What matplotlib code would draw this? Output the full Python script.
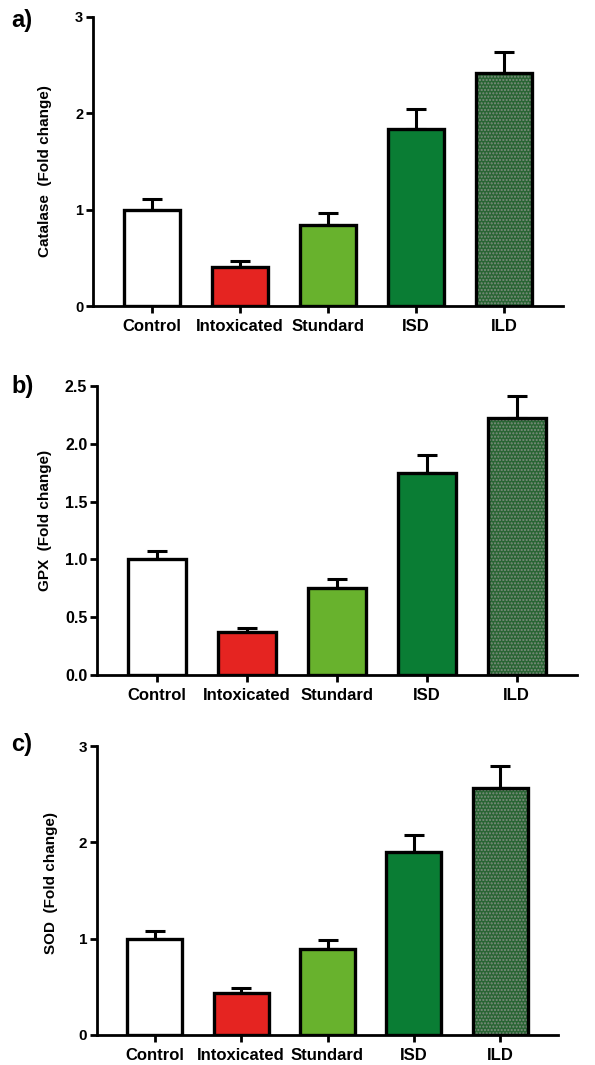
import matplotlib
matplotlib.use("Agg")
import matplotlib.pyplot as plt
import numpy as np

plt.rcParams['font.family'] = ['Liberation Sans', 'DejaVu Sans']

groups = ["Control", "Intoxicated", "Stundard", "ISD", "ILD"]
catalase = [1.00, 0.41, 0.84, 1.84, 2.42]
catalase_err = [0.11, 0.06, 0.13, 0.20, 0.22]
gpx = [1.00, 0.37, 0.75, 1.75, 2.22]
gpx_err = [0.07, 0.04, 0.08, 0.15, 0.19]
sod = [1.00, 0.44, 0.89, 1.90, 2.56]
sod_err = [0.08, 0.05, 0.10, 0.18, 0.23]

colors = ["#ffffff", "#e52421", "#68b22d", "#0a7d34", "#2a6534"]

W, H = 595, 1065
fig = plt.figure(figsize=(W / 100, H / 100), dpi=100)

panels = [
    dict(box=(93, 563, 17, 306), vals=catalase, err=catalase_err, ylim=3,
         yticks=[0, 1, 2, 3], yfmt="{:.0f}", ylabel="Catalase  (Fold change)",
         lab=(45, 171), letter="a)", lpos=(11, 21), ytfs=10.5),
    dict(box=(97, 577, 386, 675), vals=gpx, err=gpx_err, ylim=2.5,
         yticks=[0, 0.5, 1.0, 1.5, 2.0, 2.5], yfmt="{:.1f}", ylabel="GPX  (Fold change)",
         lab=(45, 520), letter="b)", lpos=(11, 386), ytfs=11.5),
    dict(box=(97, 558, 746, 1035), vals=sod, err=sod_err, ylim=3,
         yticks=[0, 1, 2, 3], yfmt="{:.0f}", ylabel="SOD  (Fold change)",
         lab=(51, 883), letter="c)", lpos=(11, 745), ytfs=11),
]

x = np.arange(len(groups))
for p in panels:
    l, r, t, b = p["box"]
    ax = fig.add_axes([l / W, 1 - b / H, (r - l) / W, (b - t) / H])
    for i in range(len(groups)):
        if i == 4:
            ax.bar(x[i], p["vals"][i], width=0.64, color=colors[i],
                   hatch=".....", edgecolor="#7f8e80", linewidth=0, zorder=2)
            ax.bar(x[i], p["vals"][i], width=0.64, fill=False,
                   edgecolor="black", linewidth=2.4, zorder=3)
        else:
            ax.bar(x[i], p["vals"][i], width=0.64, color=colors[i],
                   edgecolor="black", linewidth=2.4, zorder=3)
    ax.errorbar(x, p["vals"], yerr=[np.zeros(len(x)), p["err"]], fmt="none",
                ecolor="black", elinewidth=2.2, capsize=7.5, capthick=2.2, zorder=2.5)
    ax.set_xlim(-0.67, 4.67)
    ax.set_ylim(0, p["ylim"])
    ax.set_yticks(p["yticks"])
    ax.set_yticklabels([p["yfmt"].format(v) for v in p["yticks"]],
                       fontweight="bold", fontsize=p["ytfs"])
    ax.set_xticks(x)
    ax.set_xticklabels(groups, fontweight="bold", fontsize=12)
    for s in ["top", "right"]:
        ax.spines[s].set_visible(False)
    for s in ["left", "bottom"]:
        ax.spines[s].set_linewidth(2.0)
    ax.tick_params(axis="both", direction="out", length=5, width=2.0, pad=2)
    ax.tick_params(axis="x", pad=4)
    ax.patch.set_alpha(0)
    fig.text(p["lab"][0] / W, 1 - p["lab"][1] / H, p["ylabel"], rotation=90,
             ha="center", va="center", fontweight="bold", fontsize=11)
    fig.text(p["lpos"][0] / W, 1 - p["lpos"][1] / H, p["letter"],
             ha="left", va="center", fontsize=17, fontweight="bold",
             family=["Liberation Sans Narrow", "Liberation Sans", "DejaVu Sans"])

fig.savefig("out.png", dpi=100)
